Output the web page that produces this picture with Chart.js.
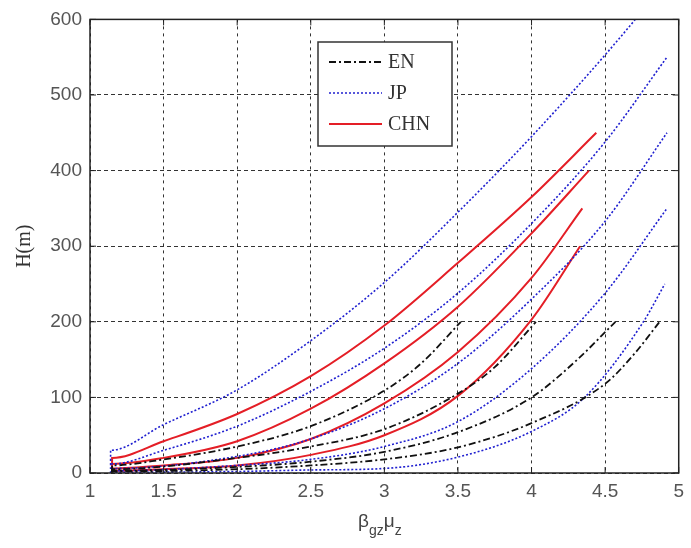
<!DOCTYPE html>
<html>
<head>
<meta charset="utf-8">
<script src="https://cdn.jsdelivr.net/npm/chart.js@4.4.0/dist/chart.umd.min.js"></script>
<style>
  body { margin: 0; background: #fff; }
</style>
</head>
<body>
<canvas id="myChart" width="691" height="548"></canvas>
<script>
// axis ticks
const xTicks = [1, 1.5, 2, 2.5, 3, 3.5, 4, 4.5, 5];
const yTicks = [0, 100, 200, 300, 400, 500, 600];

// EN (black dash-dot), four curves up to 200 m
const en1X = [1.15, 1.15, 1.5, 2, 2.5, 3, 3.25, 3.52];
const en1Y = [0, 10, 18, 35, 62, 109, 145, 200];
const en2X = [1.15, 1.15, 2, 2.5, 3, 3.5, 3.75, 4.03];
const en2Y = [0, 5, 20, 35, 58, 105, 140, 200];
const en3X = [1.15, 1.15, 2, 2.5, 3, 3.5, 4, 4.3, 4.57];
const en3Y = [0, 3, 8, 15, 28, 54, 100, 148, 200];
const en4X = [1.15, 1.15, 2, 2.5, 3, 3.5, 4, 4.5, 4.7, 4.87];
const en4Y = [0, 2, 5, 10, 18, 34, 66, 118, 158, 200];

// JP (blue dotted), five curves
const jp1X = [1.14, 1.14, 1.5, 2, 2.5, 3, 3.5, 4, 4.5, 4.92];
const jp1Y = [0, 30, 64, 110, 175, 252, 345, 445, 553, 650];
const jp2X = [1.15, 1.15, 1.5, 2, 2.5, 3, 3.5, 4, 4.5, 4.92];
const jp2Y = [0, 12, 30, 62, 108, 165, 238, 330, 438, 550];
const jp3X = [1.15, 1.15, 2, 2.5, 3, 3.5, 4, 4.5, 4.92];
const jp3Y = [0, 6, 22, 45, 85, 145, 230, 333, 450];
const jp4X = [1.15, 1.15, 2, 2.5, 3, 3.5, 4, 4.5, 4.92];
const jp4Y = [0, 3, 10, 18, 35, 68, 138, 238, 350];
const jp5X = [1.15, 1.15, 2, 2.5, 3, 3.5, 4, 4.36, 4.76, 4.905];
const jp5Y = [0, 1, 2, 4, 6, 21, 55, 100, 200, 250];

// CHN (red solid), four curves
const chn1X = [1.15, 1.15, 1.5, 2, 2.5, 3, 3.5, 4, 4.44];
const chn1Y = [0, 20, 42, 78, 128, 195, 278, 365, 450];
const chn2X = [1.15, 1.15, 1.5, 2, 2.5, 3, 3.5, 4, 4.39];
const chn2Y = [0, 12, 20, 42, 85, 145, 220, 317, 400];
const chn3X = [1.15, 1.15, 1.5, 2, 2.5, 3, 3.5, 4, 4.345];
const chn3Y = [0, 6, 10, 20, 45, 92, 160, 258, 350];
const chn4X = [1.15, 1.15, 1.5, 2, 2.5, 3, 3.5, 4, 4.33];
const chn4Y = [0, 3, 5, 10, 24, 50, 102, 203, 300];

const styles = {
  EN:  { color: '#111111', dash: [7, 3, 2, 3], width: 1.8 },
  JP:  { color: '#2020d0', dash: [2, 2], width: 1.6 },
  CHN: { color: '#e41e26', dash: [], width: 2 }
};

function curve(xs, ys, code) {
  const s = styles[code];
  return {
    label: code,
    data: xs.map((x, i) => ({ x: x, y: ys[i] })),
    showLine: true,
    pointRadius: 0,
    borderColor: s.color,
    borderDash: s.dash,
    borderWidth: s.width,
    fill: false,
    cubicInterpolationMode: 'monotone'
  };
}

const datasets = [
  curve(en1X, en1Y, 'EN'), curve(en2X, en2Y, 'EN'),
  curve(en3X, en3Y, 'EN'), curve(en4X, en4Y, 'EN'),
  curve(jp1X, jp1Y, 'JP'), curve(jp2X, jp2Y, 'JP'), curve(jp3X, jp3Y, 'JP'),
  curve(jp4X, jp4Y, 'JP'), curve(jp5X, jp5Y, 'JP'),
  curve(chn1X, chn1Y, 'CHN'), curve(chn2X, chn2Y, 'CHN'),
  curve(chn3X, chn3Y, 'CHN'), curve(chn4X, chn4Y, 'CHN')
];

// frame, inward ticks, legend box and axis titles (MATLAB look)
const decor = {
  id: 'decor',
  afterDraw(chart) {
    const ctx = chart.ctx;
    const a = chart.chartArea;
    const xs = chart.scales.x, ys = chart.scales.y;
    ctx.save();
    ctx.setLineDash([]);
    ctx.strokeStyle = '#222';
    ctx.lineWidth = 1.5;
    ctx.strokeRect(a.left, a.top, a.right - a.left, a.bottom - a.top);
    ctx.lineWidth = 1;
    xTicks.forEach(t => {
      const p = xs.getPixelForValue(t);
      ctx.beginPath();
      ctx.moveTo(p, a.bottom); ctx.lineTo(p, a.bottom - 6);
      ctx.moveTo(p, a.top); ctx.lineTo(p, a.top + 6);
      ctx.stroke();
    });
    yTicks.forEach(t => {
      const p = ys.getPixelForValue(t);
      ctx.beginPath();
      ctx.moveTo(a.left, p); ctx.lineTo(a.left + 6, p);
      ctx.moveTo(a.right, p); ctx.lineTo(a.right - 6, p);
      ctx.stroke();
    });

    // legend
    const lx = 318, ly = 42, lw = 134, lh = 104;
    ctx.fillStyle = '#fff';
    ctx.fillRect(lx, ly, lw, lh);
    ctx.strokeStyle = '#333';
    ctx.lineWidth = 1.5;
    ctx.strokeRect(lx, ly, lw, lh);
    const rows = [['EN', 62], ['JP', 93], ['CHN', 124]];
    ctx.font = '20px "Liberation Serif", serif';
    ctx.textBaseline = 'middle';
    ctx.textAlign = 'left';
    rows.forEach(([code, yy]) => {
      const s = styles[code];
      ctx.strokeStyle = s.color;
      ctx.lineWidth = s.width;
      ctx.setLineDash(s.dash);
      ctx.beginPath();
      ctx.moveTo(lx + 11, yy); ctx.lineTo(lx + 64, yy);
      ctx.stroke();
      ctx.setLineDash([]);
      ctx.fillStyle = '#333';
      ctx.fillText(code, lx + 70, yy + 1);
    });

    // y title
    ctx.save();
    ctx.translate(25, (a.top + a.bottom) / 2);
    ctx.rotate(-Math.PI / 2);
    ctx.textAlign = 'center';
    ctx.fillStyle = '#333';
    ctx.font = '20px "Liberation Serif", serif';
    ctx.fillText('H(m)', 0, 0);
    ctx.restore();

    // x title: beta_gz mu_z
    const big = '19px "Liberation Sans", sans-serif';
    const small = '14px "Liberation Sans", sans-serif';
    const base = 527;
    ctx.textBaseline = 'alphabetic';
    ctx.textAlign = 'left';
    ctx.fillStyle = '#444';
    let cx = 358;
    ctx.font = big; ctx.fillText('β', cx, base); cx += ctx.measureText('β').width;
    ctx.font = small; ctx.fillText('gz', cx, base + 8); cx += ctx.measureText('gz').width;
    ctx.font = big; ctx.fillText('μ', cx, base); cx += ctx.measureText('μ').width;
    ctx.font = small; ctx.fillText('z', cx, base + 8);
    ctx.restore();
  }
};

const ctx = document.getElementById('myChart').getContext('2d');
new Chart(ctx, {
  type: 'scatter',
  data: { datasets: datasets },
  options: {
    responsive: false,
    animation: false,
    layout: { padding: { left: 0, right: 8, top: 17, bottom: 0 } },
    plugins: {
      legend: { display: false },
      tooltip: { enabled: false }
    },
    scales: {
      x: {
        type: 'linear',
        min: 1,
        max: 5,
        afterFit: s => { s.height = 75; },
        afterBuildTicks: s => { s.ticks = xTicks.map(v => ({ value: v })); },
        ticks: {
          padding: 7,
          color: '#555',
          font: { family: '"Liberation Sans", sans-serif', size: 19 },
          callback: v => String(v)
        },
        grid: { color: '#333', lineWidth: 1, drawTicks: false },
        border: { display: false, dash: [3, 4] }
      },
      y: {
        type: 'linear',
        min: 0,
        max: 600,
        afterFit: s => { s.width = 90; },
        afterBuildTicks: s => { s.ticks = yTicks.map(v => ({ value: v })); },
        ticks: {
          padding: 8,
          color: '#555',
          font: { family: '"Liberation Sans", sans-serif', size: 19 },
          callback: v => String(v)
        },
        grid: { color: '#333', lineWidth: 1, drawTicks: false },
        border: { display: false, dash: [4, 3] }
      }
    }
  },
  plugins: [decor]
});
</script>
</body>
</html>
